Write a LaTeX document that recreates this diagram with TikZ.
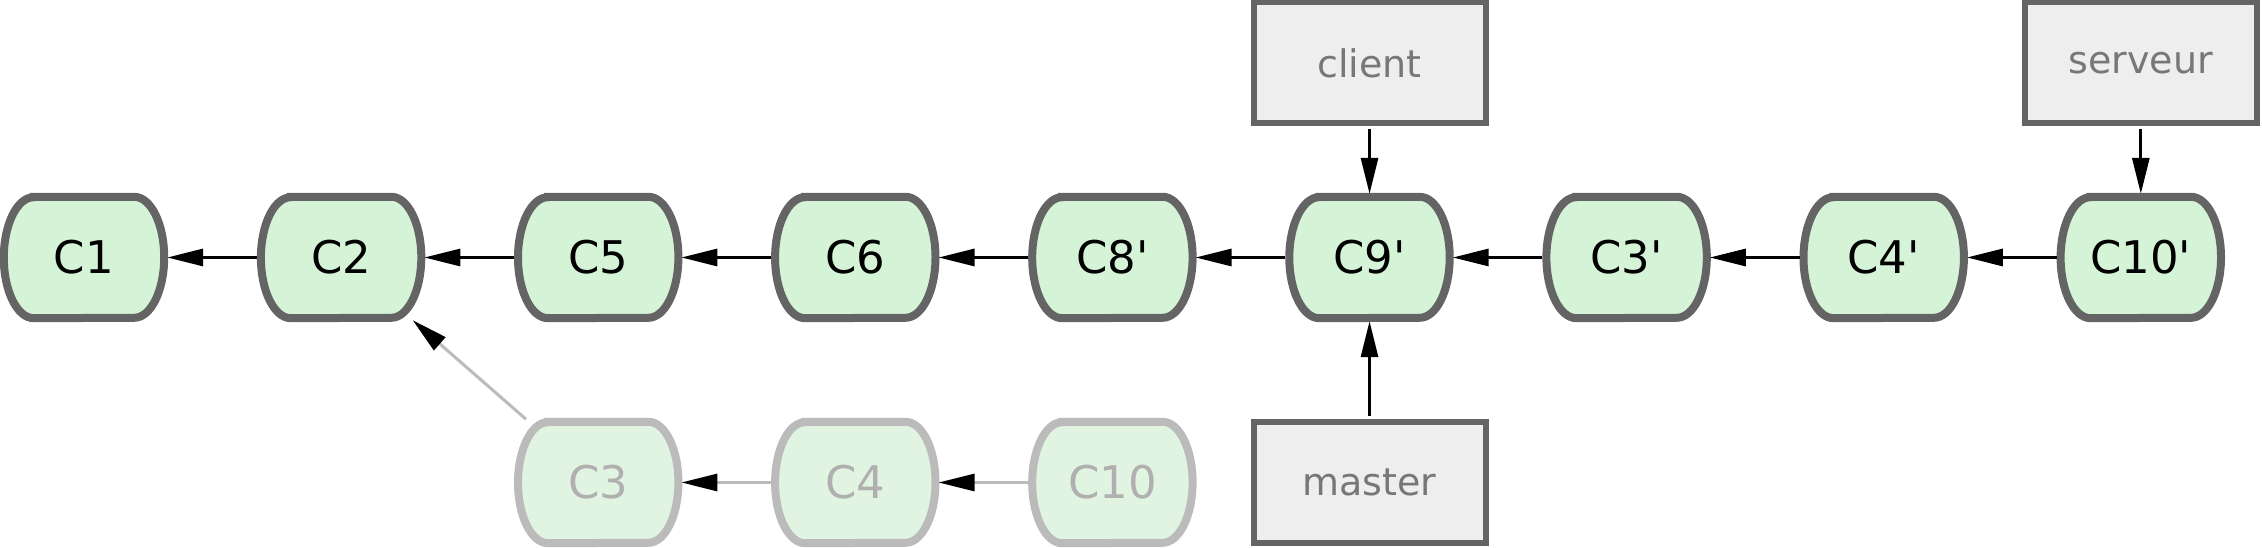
\documentclass[tikz,border=0pt]{standalone}
\usepackage{fontspec}
\setmainfont{DejaVu Sans}
\usetikzlibrary{arrows.meta,backgrounds,calc}
\definecolor{cfill}{RGB}{213,244,215}
\definecolor{cline}{RGB}{100,100,100}
\definecolor{ffill}{RGB}{225,244,226}
\definecolor{fline}{RGB}{187,187,187}
\definecolor{ftext}{RGB}{176,176,176}
\definecolor{bfill}{RGB}{238,238,238}
\definecolor{btext}{RGB}{119,119,119}
\newcommand{\commitoutline}[2]{%
  \path[#2] ([xshift=30pt]#1.north west) -- ([xshift=-30pt]#1.north east)
    arc[start angle=90,end angle=-90,x radius=30pt,y radius=60.5pt]
    -- ([xshift=30pt]#1.south west)
    arc[start angle=270,end angle=90,x radius=30pt,y radius=60.5pt] -- cycle;}
\newcommand{\pr}{\textquotesingle}
\begin{document}
\begin{tikzpicture}[x=1pt,y=1pt,
  commit/.style={rectangle,inner sep=0pt,minimum width=160pt,minimum height=121pt,
    font=\fontsize{45}{54}\selectfont,text=black},
  faded/.style={commit,text=ftext},
  cshape/.style={fill=cfill,draw=cline,line width=8pt},
  fshape/.style={fill=ffill,draw=fline,line width=8pt},
  branch/.style={rectangle,inner sep=0pt,minimum width=232pt,minimum height=121pt,
    fill=bfill,draw=cline,line width=6pt,text=btext,font=\fontsize{38}{46}\selectfont},
  arr/.style={draw=black,line width=3pt,-{Triangle[length=36pt,width=17pt]},shorten >=3pt,shorten <=4pt},
  barr/.style={arr,shorten <=3pt},
  farr/.style={draw=fline,line width=3pt,-{Triangle[length=36pt,width=17pt,color=black]},shorten >=3pt,shorten <=4pt}
]
\useasboundingbox (0,0) rectangle (2262,548);
% top row
\node[commit] (C1)  at (84,290.5) {C1};
\node[commit] (C2)  at (341.1,290.5) {C2};
\node[commit] (C5)  at (598.2,290.5) {C5};
\node[commit] (C6)  at (855.3,290.5) {C6};
\node[commit] (C8p) at (1112.4,290.5) {C8\pr};
\node[commit] (C9p) at (1369.5,290.5) {C9\pr};
\node[commit] (C3p) at (1626.6,290.5) {C3\pr};
\node[commit] (C4p) at (1883.7,290.5) {C4\pr};
\node[commit] (C10p) at (2140.8,290.5) {C10\pr};
% bottom row
\node[faded] (C3)  at (598.2,65.5) {C3};
\node[faded] (C4)  at (855.3,65.5) {C4};
\node[faded] (C10) at (1112.4,65.5) {C10};
% branches
\node[branch] (client)  at (1369.5,485) {client};
\node[branch] (master)  at (1369.5,65.5) {master};
\node[branch] (serveur) at (2140.8,485) {serveur};
\begin{scope}[on background layer]
  \foreach \n in {C1,C2,C5,C6,C8p,C9p,C3p,C4p,C10p} {\commitoutline{\n}{cshape}}
  \foreach \n in {C3,C4,C10} {\commitoutline{\n}{fshape}}
\end{scope}
% connectors
\draw[arr] (C2) -- (C1);
\draw[arr] (C5) -- (C2);
\draw[arr] (C6) -- (C5);
\draw[arr] (C8p) -- (C6);
\draw[arr] (C9p) -- (C8p);
\draw[arr] (C3p) -- (C9p);
\draw[arr] (C4p) -- (C3p);
\draw[arr] (C10p) -- (C4p);
\draw[farr] (C3) -- (C2);
\draw[farr] (C4) -- (C3);
\draw[farr] (C10) -- (C4);
\draw[barr] (client) -- (C9p);
\draw[barr] (master) -- (C9p);
\draw[barr] (serveur) -- (C10p);
\end{tikzpicture}
\end{document}
